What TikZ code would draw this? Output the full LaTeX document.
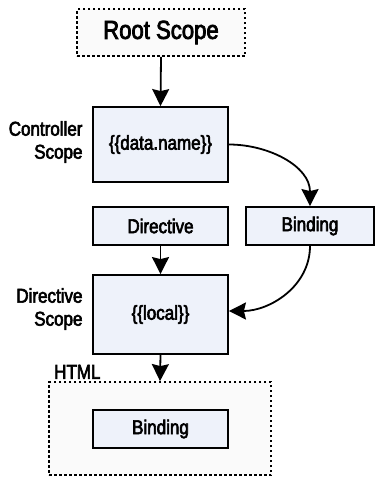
\documentclass[tikz,border=0pt]{standalone}
\usepackage{fontspec}
\setmainfont[FakeStretch=0.85, FakeBold=3]{Liberation Sans}
\usepackage{tikz}
\usetikzlibrary{arrows.meta}

\definecolor{boxfill}{HTML}{EEF2FA}
\definecolor{scopefill}{HTML}{FAFAFA}

\tikzset{
  blockbox/.style={draw, line width=1.8pt, fill=boxfill, minimum width=135pt,
    minimum height=38pt, inner sep=0pt, font=\fontsize{20}{22}\selectfont},
  scopebox/.style={draw, line width=1.8pt, dash pattern=on 2.5pt off 2.5pt,
    fill=scopefill, inner sep=0pt},
  sidelabel/.style={anchor=east, align=right, font=\fontsize{20}{23}\selectfont},
  flow/.style={line width=1.8pt, -{Stealth[width=17pt,length=17pt,inset=2pt]}}
}

\begin{document}
\begin{tikzpicture}[x=1pt, y=-1pt]
            \useasboundingbox (0,0) rectangle (375,477);
            % scopes
            \node[scopebox, minimum width=168pt, minimum height=47pt,
              font=\fontsize{26}{28}\selectfont] (root) at (161,32.5) {Root Scope};
            \node[blockbox, minimum height=75pt] (ctrl) at (160.5,144.5) {\{\{data.name\}\}};
            \node[blockbox] (directive) at (160.5,226) {Directive};
            \node[blockbox, minimum width=128pt] (binding) at (310,226) {Binding};
            \node[blockbox, minimum height=79pt] (dirscope) at (160.5,314.5) {\{\{local\}\}};
            \node[scopebox, minimum width=222pt, minimum height=93pt] (html) at (160,428.5) {};
            \node[blockbox] (htmlbinding) at (160.5,429) {Binding};

            % labels
            \node[sidelabel] (ctrllabel) at (86,142) {Controller\\Scope};
            \node[sidelabel] (dirlabel) at (86,309) {Directive\\Scope};
            \node[anchor=south west, inner sep=0pt, font=\fontsize{20}{22}\selectfont]
              (htmllabel) at (54,379) {HTML};

            % arrows
            \draw[flow] (root.south) -- (ctrl.north);
            \draw[flow] (directive.south) -- (dirscope.north);
            \draw[flow] (dirscope.south) -- (html.north);
            \draw[flow] (ctrl.east) to[out=0, in=90] (binding.north);
            \draw[flow] (binding.south) to[out=-90, in=0] ([yshift=3.5pt]dirscope.east);
        \end{tikzpicture}
\end{document}
